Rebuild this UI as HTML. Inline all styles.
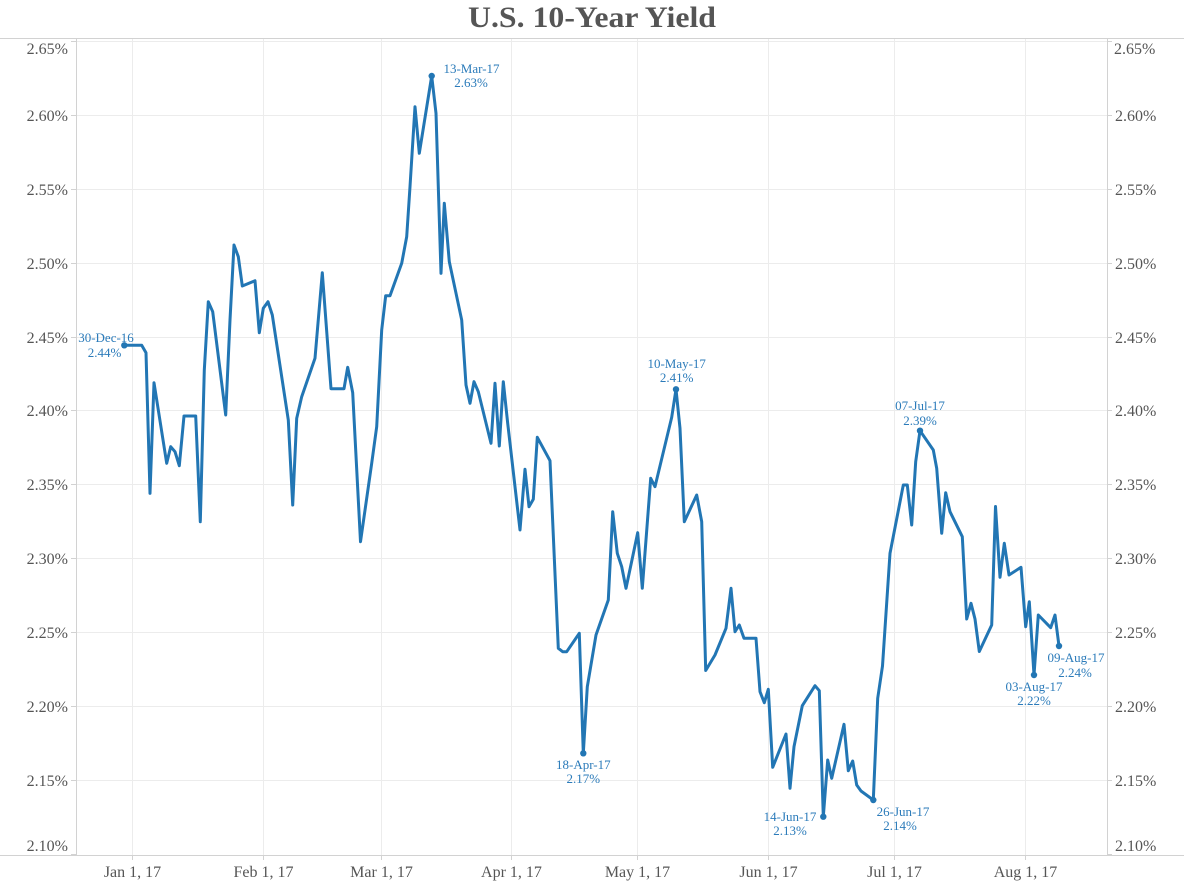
<!DOCTYPE html>
<html>
<head>
<meta charset="utf-8">
<style>
  html,body{margin:0;padding:0;background:#fff;}
  svg{display:block;}
  .ax{font-family:"Liberation Serif",serif;font-size:16px;fill:#555;}
  .an{font-family:"Liberation Serif",serif;font-size:13px;fill:#2b7bba;text-anchor:middle;}
</style>
</head>
<body>
<svg width="1184" height="884" viewBox="0 0 1184 884" xmlns="http://www.w3.org/2000/svg">
  <rect width="1184" height="884" fill="#fff"/>
  <!-- title -->
  <text x="592" y="27" text-anchor="middle" font-family="Liberation Serif, serif" font-weight="bold" font-size="30" fill="#555" textLength="248" lengthAdjust="spacingAndGlyphs">U.S. 10-Year Yield</text>

  <!-- horizontal gridlines -->
  <g stroke="#ececec" stroke-width="1">
    <line x1="76" y1="41.5" x2="1107" y2="41.5"/>
    <line x1="76" y1="115.5" x2="1107" y2="115.5"/>
    <line x1="76" y1="189.5" x2="1107" y2="189.5"/>
    <line x1="76" y1="263.5" x2="1107" y2="263.5"/>
    <line x1="76" y1="337.5" x2="1107" y2="337.5"/>
    <line x1="76" y1="410.5" x2="1107" y2="410.5"/>
    <line x1="76" y1="484.5" x2="1107" y2="484.5"/>
    <line x1="76" y1="558.5" x2="1107" y2="558.5"/>
    <line x1="76" y1="632.5" x2="1107" y2="632.5"/>
    <line x1="76" y1="706.5" x2="1107" y2="706.5"/>
    <line x1="76" y1="780.5" x2="1107" y2="780.5"/>
  </g>
  <!-- vertical gridlines -->
  <g stroke="#ececec" stroke-width="1">
    <line x1="132.5" y1="39" x2="132.5" y2="855"/>
    <line x1="263.5" y1="39" x2="263.5" y2="855"/>
    <line x1="381.5" y1="39" x2="381.5" y2="855"/>
    <line x1="511.5" y1="39" x2="511.5" y2="855"/>
    <line x1="637.5" y1="39" x2="637.5" y2="855"/>
    <line x1="768.5" y1="39" x2="768.5" y2="855"/>
    <line x1="894.5" y1="39" x2="894.5" y2="855"/>
    <line x1="1025.5" y1="39" x2="1025.5" y2="855"/>
  </g>

  <!-- axis lines -->
  <g stroke="#d2d2d2" stroke-width="1">
    <line x1="0" y1="38.5" x2="1184" y2="38.5"/>
    <line x1="0" y1="855.5" x2="1184" y2="855.5"/>
    <line x1="76.5" y1="38" x2="76.5" y2="856"/>
    <line x1="1107.5" y1="38" x2="1107.5" y2="856"/>
  </g>
  <!-- ticks -->
  <g stroke="#d2d2d2" stroke-width="1">
    <line x1="71" y1="41.5" x2="76" y2="41.5"/>
    <line x1="71" y1="115.5" x2="76" y2="115.5"/>
    <line x1="71" y1="189.5" x2="76" y2="189.5"/>
    <line x1="71" y1="263.5" x2="76" y2="263.5"/>
    <line x1="71" y1="337.5" x2="76" y2="337.5"/>
    <line x1="71" y1="410.5" x2="76" y2="410.5"/>
    <line x1="71" y1="484.5" x2="76" y2="484.5"/>
    <line x1="71" y1="558.5" x2="76" y2="558.5"/>
    <line x1="71" y1="632.5" x2="76" y2="632.5"/>
    <line x1="71" y1="706.5" x2="76" y2="706.5"/>
    <line x1="71" y1="780.5" x2="76" y2="780.5"/>
    <line x1="71" y1="854.5" x2="76" y2="854.5"/>
    <line x1="1107" y1="41.5" x2="1112" y2="41.5"/>
    <line x1="1107" y1="115.5" x2="1112" y2="115.5"/>
    <line x1="1107" y1="189.5" x2="1112" y2="189.5"/>
    <line x1="1107" y1="263.5" x2="1112" y2="263.5"/>
    <line x1="1107" y1="337.5" x2="1112" y2="337.5"/>
    <line x1="1107" y1="410.5" x2="1112" y2="410.5"/>
    <line x1="1107" y1="484.5" x2="1112" y2="484.5"/>
    <line x1="1107" y1="558.5" x2="1112" y2="558.5"/>
    <line x1="1107" y1="632.5" x2="1112" y2="632.5"/>
    <line x1="1107" y1="706.5" x2="1112" y2="706.5"/>
    <line x1="1107" y1="780.5" x2="1112" y2="780.5"/>
    <line x1="1107" y1="854.5" x2="1112" y2="854.5"/>
    <line x1="132.5" y1="855" x2="132.5" y2="860"/>
    <line x1="263.5" y1="855" x2="263.5" y2="860"/>
    <line x1="381.5" y1="855" x2="381.5" y2="860"/>
    <line x1="511.5" y1="855" x2="511.5" y2="860"/>
    <line x1="637.5" y1="855" x2="637.5" y2="860"/>
    <line x1="768.5" y1="855" x2="768.5" y2="860"/>
    <line x1="894.5" y1="855" x2="894.5" y2="860"/>
    <line x1="1025.5" y1="855" x2="1025.5" y2="860"/>
  </g>

  <!-- left axis labels -->
  <g class="ax" text-anchor="end">
    <text x="68" y="54">2.65%</text>
    <text x="68" y="121">2.60%</text>
    <text x="68" y="195">2.55%</text>
    <text x="68" y="269">2.50%</text>
    <text x="68" y="343">2.45%</text>
    <text x="68" y="416">2.40%</text>
    <text x="68" y="490">2.35%</text>
    <text x="68" y="564">2.30%</text>
    <text x="68" y="638">2.25%</text>
    <text x="68" y="712">2.20%</text>
    <text x="68" y="786">2.15%</text>
    <text x="68" y="851">2.10%</text>
  </g>
  <!-- right axis labels -->
  <g class="ax" text-anchor="start">
    <text x="1114" y="54">2.65%</text>
    <text x="1115" y="121">2.60%</text>
    <text x="1115" y="195">2.55%</text>
    <text x="1115" y="269">2.50%</text>
    <text x="1115" y="343">2.45%</text>
    <text x="1115" y="416">2.40%</text>
    <text x="1115" y="490">2.35%</text>
    <text x="1115" y="564">2.30%</text>
    <text x="1115" y="638">2.25%</text>
    <text x="1115" y="712">2.20%</text>
    <text x="1115" y="786">2.15%</text>
    <text x="1115" y="851">2.10%</text>
  </g>
  <!-- x axis labels -->
  <g class="ax" text-anchor="middle">
    <text x="132.5" y="877">Jan 1, 17</text>
    <text x="263.5" y="877">Feb 1, 17</text>
    <text x="381.5" y="877">Mar 1, 17</text>
    <text x="511.5" y="877">Apr 1, 17</text>
    <text x="637.5" y="877">May 1, 17</text>
    <text x="768.5" y="877">Jun 1, 17</text>
    <text x="894.5" y="877">Jul 1, 17</text>
    <text x="1025.5" y="877">Aug 1, 17</text>
  </g>

  <!-- series -->
  <polyline fill="none" stroke="#2276b4" stroke-width="3" stroke-linejoin="round" stroke-linecap="round" points="
124.3,345.3 141.7,345.3 146,352.7 150,493.3 154,382.7 166.7,463.3 170.7,446.7 175,451.7 179.3,465.7 184,416
195.7,416 200.3,521.7 204.3,370 208.3,301.7 212.7,311.7 225.7,415 230,320 234,245 238.3,256.7 242.3,286
255,280.7 259.3,332.7 263.3,308.3 268,301.7 272.3,315 288.3,420 292.7,505 296.7,418.3 301.7,396.7 315,358.3
322.3,272.7 331,388.7 344,388.7 347.7,367.3 352.7,392.7 360.5,541.7 371.7,463.3 376.7,426.7 381.7,330 385.7,295.7
390,295.7 401.7,263.3 406.7,236.7 410,186.7 415,106.7 419.3,153.3 431.7,76 436,113.3 441,273.3 444.3,203.3
449.3,261.7 461.7,320 466,385 470,403.3 474,381.7 478.3,391.7 491,443.3 495,383.3 499.3,446 503.3,381.7
507.7,423.3 520,530 525,469.3 529,506.7 533.3,499.3 537.3,437.3 550,460.7 558.3,648.3 562.7,651.7 566.7,651.7
579.3,633.3 583.3,753.3 587.3,686.7 596,635 608.3,600 612.7,511.7 617.3,553.3 621.7,566.7 626,588.3 637.7,532.7
642.3,588.3 650.7,478.3 655,486.7 671.7,417.3 676,389.3 680,428.3 684.3,521.7 696.7,495 701.7,521.7 705.7,670.5
715,655 726,628.3 731,588.3 735,631.7 739.3,625 744,638.3 756,638.3 760,691.7 764.3,702.7 768.3,689.3
772.7,767.3 786,734 790,788.3 794,746.7 802.3,705.7 815,685.7 819.3,690.7 823.3,816.7 827.7,760 831.7,778.3
844,724.3 848.3,770.7 852.7,761 856.7,785 861,791 873.3,800 877.7,698.3 882.5,666 890,553.3 903.3,485
907.3,485 911.7,525 915.7,461.7 920,430.7 933.3,450 936.7,468.3 941.7,533.3 945.7,492.7 950,511.7 962.3,536.7
966.7,619 971,603.3 975,619 979.3,651.5 991.7,625 995.5,506.5 1000,577.3 1004.3,543.3 1009,575 1021,567.3
1025.7,626.7 1029.3,601.7 1034,675 1038.3,615 1050.7,627.7 1055,615 1059,646"/>

  <!-- marker dots -->
  <g fill="#2276b4">
    <circle cx="124.3" cy="345.3" r="3.2"/>
    <circle cx="431.7" cy="76" r="3.2"/>
    <circle cx="583.3" cy="753.3" r="3.2"/>
    <circle cx="676" cy="389.3" r="3.2"/>
    <circle cx="823.3" cy="816.7" r="3.2"/>
    <circle cx="873.3" cy="800" r="3.2"/>
    <circle cx="920" cy="430.7" r="3.2"/>
    <circle cx="1034" cy="675" r="3.2"/>
    <circle cx="1059" cy="646" r="3.2"/>
  </g>

  <!-- annotations -->
  <g class="an">
    <text x="106" y="342">30-Dec-16</text>
    <text x="104.5" y="357">2.44%</text>
    <text x="471.5" y="73">13-Mar-17</text>
    <text x="471" y="87">2.63%</text>
    <text x="583.3" y="769">18-Apr-17</text>
    <text x="583.3" y="783">2.17%</text>
    <text x="676.7" y="368">10-May-17</text>
    <text x="676.7" y="382">2.41%</text>
    <text x="790" y="821">14-Jun-17</text>
    <text x="790" y="835">2.13%</text>
    <text x="903" y="816">26-Jun-17</text>
    <text x="900" y="830">2.14%</text>
    <text x="920" y="410">07-Jul-17</text>
    <text x="920" y="425">2.39%</text>
    <text x="1034" y="691">03-Aug-17</text>
    <text x="1034" y="705">2.22%</text>
    <text x="1076" y="662">09-Aug-17</text>
    <text x="1075" y="677">2.24%</text>
  </g>
</svg>
</body>
</html>
